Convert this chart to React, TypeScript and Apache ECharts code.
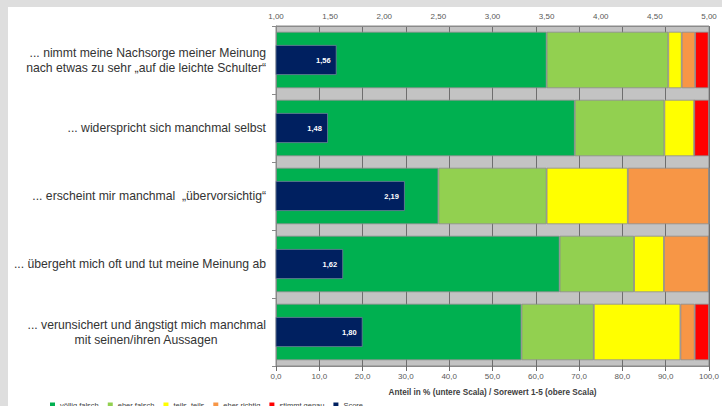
import React, { useEffect, useRef } from "react";
import * as echarts from "echarts";

const categories = [
  "... nimmt meine Nachsorge meiner Meinung\nnach etwas zu sehr \u201Eauf die leichte Schulter\u201C",
  "... widerspricht sich manchmal selbst",
  "... erscheint mir manchmal  \u201E\u00FCbervorsichtig\u201C",
  "... \u00FCbergeht mich oft und tut meine Meinung ab",
  "... verunsichert und \u00E4ngstigt mich manchmal\n{c|mit seinen/ihren Aussagen}",
];
const seriesNames = ["völlig falsch", "eher falsch", "teils, teils", "eher richtig", "stimmt genau"];
const vollig = [62.5, 69.0, 37.5, 65.5, 56.7];
const eherFalsch = [28.1, 20.7, 25.0, 17.2, 16.7];
const teils = [3.1, 6.9, 18.75, 6.9, 20.0];
const eherRichtig = [3.1, 0, 18.75, 10.3, 3.3];
const stimmt = [3.1, 3.4, 0, 0, 3.3];
const score = [1.56, 1.48, 2.19, 1.62, 1.8];
const colors = ["#00B050", "#92D050", "#FFFF00", "#F79646", "#FF0000"];
const scoreColor = "#002060";

const fmt = (v: number, d: number) => v.toFixed(d).replace(".", ",");

export default function App() {
  const ref = useRef<HTMLDivElement>(null);
  useEffect(() => {
    if (!ref.current) return;
    const chart = echarts.init(ref.current, undefined, { renderer: "svg" });
    const stackData = [vollig, eherFalsch, teils, eherRichtig, stimmt];
    const border = { borderColor: "#8c8c8c", borderWidth: 0.8 };
    chart.setOption({
      animation: false,
      textStyle: { fontFamily: "Liberation Sans, Arial, sans-serif" },
      grid: {
        left: 268,
        right: 8,
        top: 19,
        bottom: 40,
        show: true,
        backgroundColor: "#c3c3c3",
        borderColor: "#8a8a8a",
        borderWidth: 1,
      },
      legend: {
        left: 37,
        top: 389,
        itemWidth: 5,
        itemHeight: 5,
        itemGap: 9,
        icon: "rect",
        itemStyle: { borderWidth: 0 },
        textStyle: { fontSize: 7.5, color: "#404040" },
        data: [...seriesNames, "Score"],
      },
      xAxis: [
        {
          type: "value",
          position: "bottom",
          min: 0,
          max: 100,
          interval: 10,
          axisLine: { show: true, lineStyle: { color: "#8a8a8a" } },
          axisTick: { show: true, length: 5, lineStyle: { color: "#6a6a6a" } },
          axisLabel: {
            fontSize: 8,
            color: "#595959",
            margin: 6,
            formatter: (v: number) => fmt(v, 1),
          },
          splitLine: { show: true, lineStyle: { color: "#6e6e6e", width: 1 } },
          name: "Anteil in % (untere Scala) / Sorewert 1-5 (obere Scala)",
          nameLocation: "middle",
          nameGap: 22,
          nameTextStyle: { fontSize: 8.2, fontWeight: "bold", color: "#404040" },
        },
        {
          type: "value",
          position: "top",
          min: 1,
          max: 5,
          interval: 0.5,
          axisLine: { show: true, lineStyle: { color: "#8a8a8a" } },
          axisTick: { show: false },
          axisLabel: {
            fontSize: 8,
            color: "#595959",
            margin: 6,
            formatter: (v: number) => fmt(v, 2),
          },
          splitLine: { show: false },
        },
      ],
      yAxis: [
        {
          type: "category",
          inverse: true,
          data: categories,
          axisLine: { show: true, lineStyle: { color: "#8a8a8a" } },
          axisTick: { show: true, length: 4, lineStyle: { color: "#8a8a8a" } },
          axisLabel: {
            fontSize: 12.2,
            color: "#333333",
            margin: 10,
            align: "right",
            lineHeight: 15,
            rich: {
              c: { width: 240, align: "center", fontSize: 12.2, color: "#333333", lineHeight: 15 },
            },
          },
        },
        {
          type: "category",
          inverse: true,
          data: categories,
          show: false,
        },
      ],
      series: [
        ...stackData.map((d, i) => ({
          name: seriesNames[i],
          type: "bar",
          stack: "total",
          xAxisIndex: 0,
          yAxisIndex: 0,
          barCategoryGap: "17%",
          itemStyle: { color: colors[i], ...border },
          data: d,
        })),
        {
          name: "Score",
          type: "bar",
          xAxisIndex: 1,
          yAxisIndex: 1,
          barWidth: 30,
          itemStyle: { color: scoreColor, borderColor: "#6f7d99", borderWidth: 0.8 },
          label: {
            show: true,
            position: "insideRight",
            distance: 6,
            color: "#ffffff",
            fontSize: 7.5,
            fontWeight: "bold",
            formatter: (p: any) => fmt(p.value, 2),
          },
          data: score,
        },
      ],
    });
    return () => chart.dispose();
  }, []);
  return (
    <div
      style={{
        position: "fixed",
        left: 0,
        top: 0,
        width: 722,
        height: 406,
        background: "#dedede",
        overflow: "hidden",
      }}
    >
      <div
        ref={ref}
        style={{ position: "absolute", left: 8, top: 7, width: 714, height: 399, background: "#ffffff" }}
      />
    </div>
  );
}
